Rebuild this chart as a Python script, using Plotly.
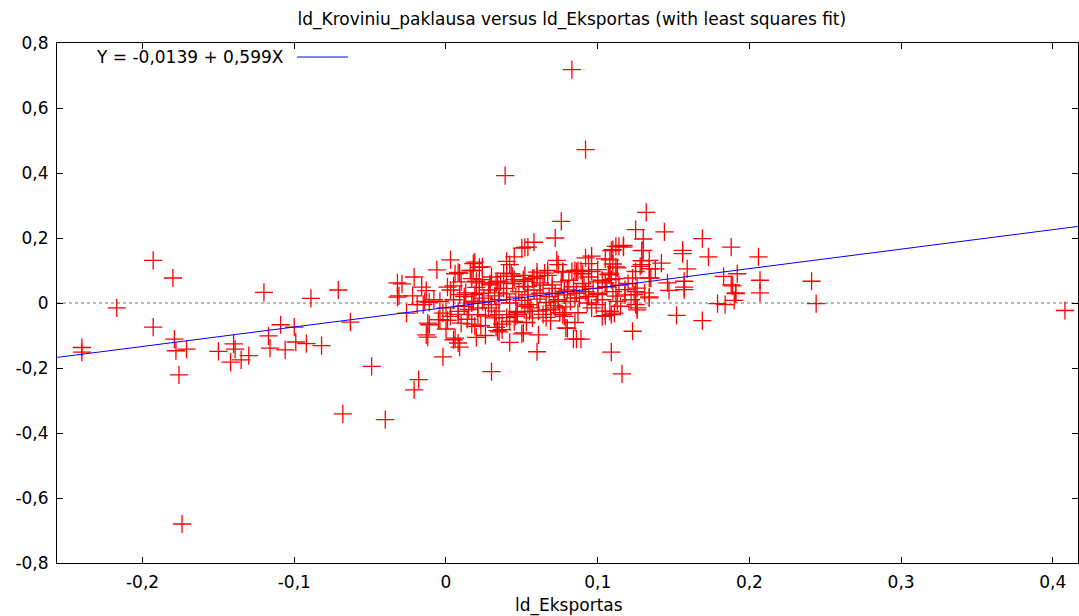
import plotly.graph_objects as go

# ld_Eksportas (x) and ld_Kroviniu_paklausa (y) observations
ld_eksportas = [
    -0.240, -0.240, -0.217, -0.193, -0.193, -0.180, -0.179, -0.178, -0.171, -0.176,
    -0.174, -0.150, -0.142, -0.140, -0.139, -0.135, -0.130, -0.120, -0.117, -0.116,
    -0.109, -0.106, -0.100, -0.099, -0.092, -0.089, -0.082, -0.071, -0.063, -0.049,
    -0.068, -0.040, -0.032, -0.032,
    -0.021, -0.018, -0.002, -0.012, -0.013, -0.012, 0.000, 0.005, 0.008, 0.009,
    -0.026, -0.031, -0.022, -0.013, -0.015, -0.019, -0.011, -0.004, -0.005, 0.001,
    -0.021, -0.029, -0.016, -0.006, 0.003, -0.014, -0.011, -0.004,
    0.030, 0.060, 0.010, 0.017, 0.021, 0.023, 0.020, 0.026, 0.034, 0.033,
    0.042, 0.037, 0.045, 0.047, 0.051, 0.055, 0.061, 0.066, 0.072, 0.077,
    0.080, 0.086, 0.089, 0.084, 0.109, 0.116, 0.123, 0.152, 0.169, 0.096,
    0.105, 0.109, 0.126, 0.125, 0.111, 0.019, 0.042, 0.046, 0.003, -0.002,
    0.008, 0.000, 0.012, 0.021, 0.028, 0.035, 0.032, 0.047, 0.052, 0.024,
    0.017, 0.006, 0.035, 0.050, 0.079, 0.078, 0.066, 0.057, 0.103, 0.108,
    0.126, 0.069, 0.054, 0.113, 0.085, 0.122, 0.074, 0.134,
    0.191, 0.207, 0.179, 0.184, 0.190, 0.134, 0.147, 0.169, 0.188, 0.173,
    0.206, 0.183, 0.192, 0.188, 0.207, 0.241, 0.244, 0.408, 0.189, 0.191,
    0.083, 0.092, 0.039, 0.132, 0.125, 0.144, 0.130, 0.156, 0.156, 0.159,
    0.157, 0.157, 0.157, 0.142, 0.138, 0.134, 0.130, 0.129, 0.135, 0.146,
    0.126, 0.117, 0.110, 0.112, 0.108, 0.096, 0.094, 0.086, 0.100, 0.112,
    0.108, 0.103, 0.125,
    0.076, 0.072, 0.058, 0.054, 0.050, 0.045, 0.040, 0.042, 0.073, 0.074,
    0.018, 0.024, 0.016, 0.009, 0.006, 0.001, 0.005, 0.020, 0.029, 0.034,
    0.038, 0.040, 0.043, 0.051, 0.060, 0.067, 0.085, 0.089, 0.092, 0.077,
    0.008, 0.018, 0.022, 0.019, 0.052, 0.044, 0.024, 0.029, 0.022, 0.033,
    0.051, 0.013, 0.019, 0.035, 0.009,
    0.117, 0.114, 0.109, 0.129, 0.105, 0.129, 0.110, 0.113, 0.087, 0.096,
    0.083, 0.077, 0.134, 0.128, 0.065, 0.058, 0.108, 0.109, 0.123, 0.134,
    0.105, 0.070, 0.091, 0.118, 0.131, 0.054, 0.062, 0.078, 0.100, 0.124,
    0.112,
    0.005, 0.012, 0.018, 0.022, 0.025, 0.028, 0.030, 0.032, 0.035, 0.038,
    0.040, 0.042, 0.044, 0.046, 0.048, 0.050, 0.052, 0.054, 0.056, 0.058,
    0.060, 0.062, 0.064, 0.066, 0.068, 0.070, 0.072, 0.074, 0.076, 0.078,
    0.080, 0.082, 0.084, 0.086, 0.088, 0.090, 0.092, 0.094, 0.097, 0.100,
    0.103, 0.106, 0.110, 0.114, 0.118, 0.015, 0.020, 0.033, 0.047, 0.061,
    0.071, 0.079, 0.087, 0.093, 0.099, 0.008, 0.026, 0.040, 0.057, 0.067,
    0.081, 0.094, 0.107, 0.120, 0.045, 0.030, 0.036, 0.053, 0.069, 0.085,
    0.105, 0.115, 0.125, 0.010, 0.017, 0.003, -0.008, 0.014, 0.037, 0.064,
    0.075, 0.090, 0.100, 0.112, 0.060, 0.052,
]
ld_kroviniu_paklausa = [
    -0.137, -0.151, -0.015, 0.131, -0.074, 0.077, -0.111, -0.147, -0.142, -0.221,
    -0.680, -0.149, -0.182, -0.126, -0.142, -0.175, -0.162, 0.033, -0.101, -0.139,
    -0.067, -0.144, -0.074, -0.120, -0.125, 0.014, -0.131, 0.040, -0.059, -0.195,
    -0.341, -0.359, 0.062, 0.018,
    -0.267, -0.236, -0.166, -0.062, -0.098, -0.105, -0.080, -0.113, -0.123, -0.136,
    -0.031, 0.022, 0.022, 0.038, -0.005, -0.005, 0.002, 0.005, -0.051, -0.053,
    0.080, 0.059, 0.049, 0.102, 0.133, 0.005, -0.067, -0.051,
    -0.211, -0.150, -0.062, -0.065, -0.036, -0.070, -0.106, -0.100, -0.085, -0.075,
    -0.121, -0.082, -0.057, -0.036, -0.092, -0.026, -0.098, -0.021, -0.015, -0.036,
    -0.078, -0.111, -0.111, -0.111, -0.151, -0.218, -0.087, -0.038, -0.054, -0.015,
    -0.039, -0.036, -0.021, -0.005, -0.031, -0.072, -0.057, -0.041, -0.041, -0.031,
    -0.026, -0.015, -0.010, -0.015, -0.015, -0.036, -0.046, -0.026, -0.010, 0.005,
    0.000, -0.108, -0.089, -0.095, -0.077, -0.041, -0.044, -0.046, -0.041, -0.026,
    -0.015, -0.021, -0.005, 0.005, 0.016, 0.010, 0.005, 0.016,
    0.031, 0.031, -0.002, -0.005, 0.008, 0.019, 0.039, 0.198, 0.172, 0.142,
    0.142, 0.082, 0.090, 0.056, 0.070, 0.067, -0.002, -0.023, 0.053, 0.029,
    0.718, 0.472, 0.392, 0.279, 0.226, 0.219, 0.197, 0.162, 0.152, 0.105,
    0.067, 0.049, 0.041, 0.123, 0.105, 0.131, 0.162, 0.118, 0.077, 0.062,
    0.046, 0.172, 0.164, 0.174, 0.133, 0.144, 0.121, 0.097, 0.103, 0.111,
    0.092, 0.070, 0.097,
    0.251, 0.200, 0.187, 0.172, 0.169, 0.142, 0.128, 0.118, 0.131, 0.118,
    0.121, 0.111, 0.100, 0.092, 0.090, 0.049, 0.053, 0.067, 0.059, 0.067,
    0.092, 0.082, 0.090, 0.067, 0.082, 0.100, 0.100, 0.100, 0.139, 0.097,
    0.094, 0.100, 0.110, 0.126, 0.171, 0.082, 0.072, 0.056, 0.062, 0.062,
    0.072, 0.031, 0.026, 0.031, 0.026,
    0.177, 0.174, 0.161, 0.161, 0.136, 0.130, 0.120, 0.108, 0.100, 0.097,
    0.097, 0.095, 0.106, 0.113, 0.092, 0.077, 0.087, 0.072, 0.077, 0.077,
    0.062, 0.056, 0.051, 0.041, 0.031, 0.051, 0.062, 0.036, 0.026, 0.026,
    0.021,
    0.010, 0.020, 0.005, 0.030, 0.015, 0.040, -0.005, 0.022, 0.010, 0.045,
    0.028, 0.000, 0.060, 0.018, 0.035, 0.008, 0.050, 0.025, -0.015, 0.040,
    0.012, 0.030, 0.055, 0.002, 0.020, 0.045, 0.030, 0.010, 0.065, 0.025,
    0.040, 0.005, 0.050, 0.030, 0.015, 0.060, 0.035, 0.020, 0.045, 0.030,
    0.010, 0.050, 0.035, 0.055, 0.025, -0.020, 0.048, -0.025, -0.030, -0.025,
    -0.008, -0.012, -0.030, 0.000, -0.005, -0.035, -0.040, -0.045, 0.075, 0.085,
    0.070, 0.080, 0.088, 0.060, 0.072, 0.080, 0.065, -0.060, -0.055, -0.060,
    -0.025, -0.010, 0.035, 0.065, 0.075, 0.040, 0.010, -0.050, -0.065, -0.035,
    -0.030, 0.090, 0.065, 0.075, 0.095, 0.085,
]

# Least squares fit coefficients
fit_intercept = -0.0139
fit_slope = 0.599

# Axis ranges and tick labels
x_range = [-0.2564, 0.4166]
y_range = [-0.8, 0.8]
x_tick_values = [-0.2, -0.1, 0.0, 0.1, 0.2, 0.3, 0.4]
x_tick_labels = ["-0,2", "-0,1", "0", "0,1", "0,2", "0,3", "0,4"]
y_tick_values = [-0.8, -0.6, -0.4, -0.2, 0.0, 0.2, 0.4, 0.6, 0.8]
y_tick_labels = ["-0,8", "-0,6", "-0,4", "-0,2", "0", "0,2", "0,4", "0,6", "0,8"]

FONT = "DejaVu Sans"
fs = 17

fit_x = x_range
fit_y = [fit_intercept + fit_slope * v for v in fit_x]

def fmt(v, nd):
    return f"{v:.{nd}f}".replace(".", ",")

fit_label = f"Y = {fmt(fit_intercept, 4)} + {fmt(fit_slope, 3)}X"

fig = go.Figure()

fig.add_trace(go.Scatter(
    x=ld_eksportas, y=ld_kroviniu_paklausa, mode="markers",
    marker=dict(symbol="cross-thin-open", size=13,
                line=dict(color="#ff0000", width=1.3), color="#ff0000"),
    showlegend=False, hoverinfo="x+y",
))

fig.add_trace(go.Scatter(
    x=fit_x, y=fit_y, mode="lines",
    line=dict(color="#0000ff", width=1), showlegend=False,
))

# dotted zero line
fig.add_shape(type="line", xref="paper", yref="y", x0=0, x1=1, y0=0, y1=0,
              line=dict(color="#a0a0a0", width=1.3, dash="dot"), layer="below")

# key: label followed by line sample
fig.add_annotation(xref="paper", yref="paper", x=0.2243, y=0.973,
                   xanchor="right", yanchor="middle", showarrow=False,
                   text=fit_label, font=dict(family=FONT, size=fs, color="black"))
fig.add_shape(type="line", xref="paper", yref="paper", x0=0.235, x1=0.285,
              y0=0.973, y1=0.973, line=dict(color="#0000ff", width=1))

# x axis title
fig.add_annotation(xref="paper", yref="paper", x=0.501, y=-0.081,
                   xanchor="center", yanchor="middle", showarrow=False,
                   text="ld_Eksportas", font=dict(family=FONT, size=fs, color="black"))

axis_common = dict(
    showline=True, linecolor="black", linewidth=1, mirror="ticks",
    ticks="inside", ticklen=6, tickcolor="black", showgrid=False, zeroline=False,
    tickfont=dict(family=FONT, size=fs, color="black"),
)

fig.update_layout(
    width=1079, height=616,
    margin=dict(l=57, r=1, t=43, b=53),
    paper_bgcolor="white", plot_bgcolor="white",
    title=dict(text="ld_Kroviniu_paklausa versus ld_Eksportas (with least squares fit)",
               x=0.530, xanchor="center", y=1 - 19 / 616, yanchor="middle",
               yref="container", font=dict(family=FONT, size=fs, color="black")),
    xaxis=dict(range=x_range, tickvals=x_tick_values, ticktext=x_tick_labels,
               ticklabelstandoff=4, **axis_common),
    yaxis=dict(range=y_range, tickvals=y_tick_values, ticktext=y_tick_labels,
               ticklabelstandoff=4, **axis_common),
    showlegend=False,
)

fig.write_html("out.html")
